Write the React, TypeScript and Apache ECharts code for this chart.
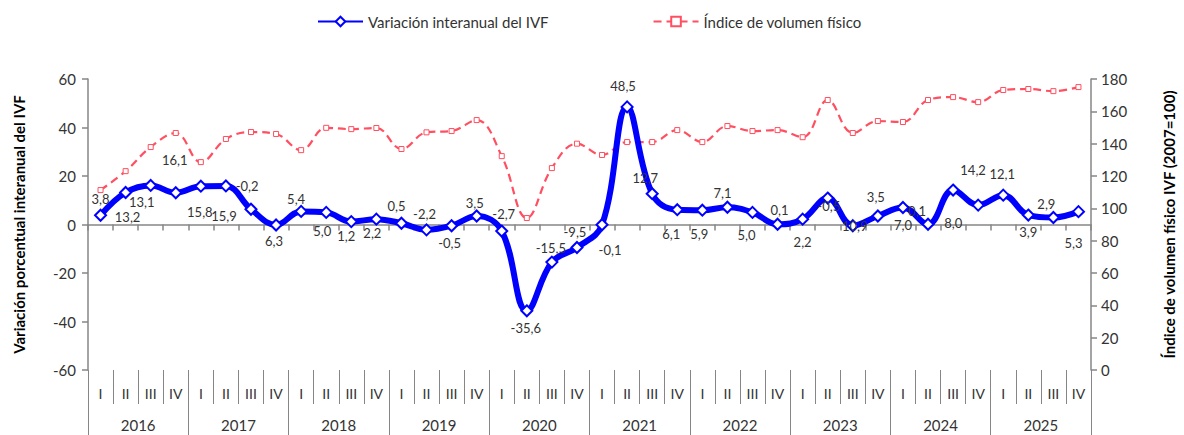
import React, { useEffect, useRef } from "react";
import * as echarts from "echarts";

const years = ["2016", "2017", "2018", "2019", "2020", "2021", "2022", "2023", "2024", "2025"];
const quarterNames = ["I", "II", "III", "IV"];
const categories = years.flatMap((y) => quarterNames.map((q) => `${q}-${y}`));
const quarterLabels = years.flatMap(() => quarterNames);

const variacion = [
  3.8, 13.2, 16.1, 13.1, 15.8, 15.9, 6.3, -0.2, 5.4, 5.0,
  1.2, 2.2, 0.5, -2.2, -0.5, 3.5, -2.7, -35.6, -15.5, -9.5,
  -0.1, 48.5, 12.7, 6.1, 5.9, 7.1, 5.0, 0.1, 2.2, 10.9,
  -0.5, 3.5, 7.0, 0.1, 14.2, 8.0, 12.1, 3.9, 2.9, 5.3,
];

const indice = [
  111.3, 123.0, 137.9, 146.6, 128.6, 142.9, 147.2, 146.0, 136.0, 149.8,
  149.0, 149.7, 136.7, 147.0, 147.8, 154.6, 132.3, 94.0, 124.9, 140.0,
  133.0, 141.0, 141.0, 148.4, 141.0, 150.9, 147.8, 148.4, 144.0, 167.0,
  146.6, 154.0, 153.4, 167.0, 168.8, 165.7, 173.2, 173.8, 172.5, 175.0,
];

// label placement (style): offset of each data label from its point, in px
const labelOffsets: [number, number][] = [
  [0, -16], [2, 25], [24, -25], [-34, 9], [-1, 26], [-2, 30], [23, 32], [-29, -39], [-5, -12], [-4, 19],
  [-5, 14], [-4, 14], [-5, -17], [-2, -16], [-2, 17], [-2, -13], [2, -17], [-1, 17], [-1, -14], [-2, -16],
  [8, 25], [-4, -21], [-7, -16], [-6, 24], [-3, 24], [-5, -14], [-6, 23], [2, -14], [0, 23], [27, 28],
  [-24, -20], [-2, -19], [0, 17], [-11, -13], [20, -20], [-25, 18], [-1, -21], [0, 17], [-7, -13], [-5, 31],
];

const FONT = "Lato, 'Liberation Sans', sans-serif";
const AXIS_COLOR = "#868686";
const TEXT_COLOR = "#333333";

export default function App() {
  const ref = useRef<HTMLDivElement>(null);

  useEffect(() => {
    if (!ref.current) return;
    const chart = echarts.init(ref.current, null, { renderer: "svg" });
    const fmt = (v: number) => v.toFixed(1).replace(".", ",");

    chart.setOption({
      animation: false,
      textStyle: { fontFamily: FONT },
      legend: {
        top: 9,
        left: 312,
        itemWidth: 45,
        itemHeight: 12,
        itemGap: 104,
        textStyle: { fontFamily: FONT, fontSize: 15, color: TEXT_COLOR },
        data: ["Variación interanual del IVF", "Índice de volumen físico"],
      },
      grid: { left: 88, right: 92, top: 79, bottom: 65 },
      xAxis: [
        {
          type: "category",
          data: categories,
          position: "bottom",
          boundaryGap: true,
          axisLine: { show: true, onZero: true, lineStyle: { color: AXIS_COLOR, width: 1.5 } },
          axisTick: { show: true, interval: 0, length: 6, lineStyle: { color: AXIS_COLOR, width: 1.5 } },
          axisLabel: { show: false },
          splitLine: { show: false },
        },
        {
          type: "category",
          data: quarterLabels,
          position: "bottom",
          boundaryGap: true,
          axisLine: { show: false, onZero: false },
          axisTick: { show: true, interval: 0, length: 34, lineStyle: { color: AXIS_COLOR } },
          axisLabel: { show: true, interval: 0, margin: 16, fontFamily: FONT, fontSize: 14, color: TEXT_COLOR },
          splitLine: { show: false },
        },
        {
          type: "category",
          data: years,
          position: "bottom",
          boundaryGap: true,
          axisLine: { show: false, onZero: false },
          axisTick: { show: true, interval: 0, length: 65, lineStyle: { color: AXIS_COLOR } },
          axisLabel: { show: true, interval: 0, margin: 47, fontFamily: FONT, fontSize: 15, color: TEXT_COLOR },
          splitLine: { show: false },
        },
      ],
      yAxis: [
        {
          type: "value",
          min: -60,
          max: 60,
          interval: 20,
          position: "left",
          name: "Variación porcentual interanual del IVF",
          nameLocation: "middle",
          nameRotate: 90,
          nameGap: 62,
          nameTextStyle: { fontFamily: FONT, fontSize: 15, fontWeight: "bold", color: "#000" },
          axisLine: { show: true, lineStyle: { color: AXIS_COLOR, width: 1.5 } },
          axisTick: { show: true, length: 6, lineStyle: { color: AXIS_COLOR, width: 1.5 } },
          axisLabel: { fontFamily: FONT, fontSize: 15, color: TEXT_COLOR, margin: 12 },
          splitLine: { show: false },
        },
        {
          type: "value",
          min: 0,
          max: 180,
          interval: 20,
          position: "right",
          name: "Índice de volumen físico IVF (2007=100)",
          nameLocation: "middle",
          nameRotate: 90,
          nameGap: 70,
          nameTextStyle: { fontFamily: FONT, fontSize: 15, fontWeight: "bold", color: "#000" },
          axisLine: { show: true, lineStyle: { color: AXIS_COLOR, width: 1.5 } },
          axisTick: { show: true, length: 6, lineStyle: { color: AXIS_COLOR, width: 1.5 } },
          axisLabel: { fontFamily: FONT, fontSize: 15, color: TEXT_COLOR, margin: 10 },
          splitLine: { show: false },
        },
      ],
      series: [
        {
          name: "Índice de volumen físico",
          type: "line",
          xAxisIndex: 0,
          yAxisIndex: 1,
          data: indice,
          smooth: 0.4,
          symbol: "rect",
          symbolSize: 5,
          showAllSymbol: true,
          lineStyle: { color: "#FF4F60", width: 2.2, type: [8, 5] },
          itemStyle: { color: "#ffffff", borderColor: "#FF4F60", borderWidth: 1 },
          z: 2,
        },
        {
          name: "Variación interanual del IVF",
          type: "line",
          xAxisIndex: 0,
          yAxisIndex: 0,
          data: variacion.map((v, i) => ({
            value: v,
            label: { offset: labelOffsets[i] },
          })),
          smooth: 0.4,
          symbol: "diamond",
          symbolSize: 11,
          showAllSymbol: true,
          lineStyle: { color: "#0000FF", width: 6 },
          itemStyle: { color: "#ffffff", borderColor: "#0000FF", borderWidth: 2 },
          label: {
            show: true,
            position: "inside",
            fontFamily: FONT,
            fontSize: 13,
            color: TEXT_COLOR,
            formatter: (p: any) => fmt(p.value),
          },
          z: 3,
        },
      ],
    });

    return () => chart.dispose();
  }, []);

  return (
    <div
      ref={ref}
      style={{ position: "absolute", left: 0, top: 0, width: 1184, height: 435, background: "#fff" }}
    />
  );
}
